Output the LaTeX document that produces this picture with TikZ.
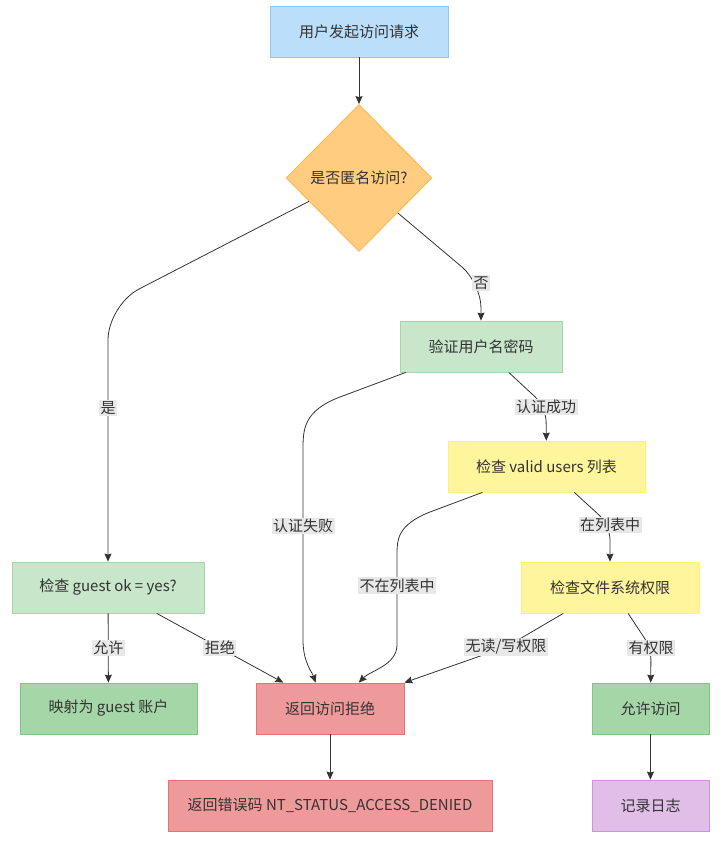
\documentclass[tikz,border=0pt]{standalone}
\usepackage{fontspec}
\setmainfont{Noto Sans CJK SC}
\usepackage{tikz}
\usetikzlibrary{arrows.meta,calc,positioning,shapes}
\definecolor{my_text}{RGB}{51, 51, 51}
\definecolor{my_line}{RGB}{51, 51, 51}
\definecolor{my_label}{RGB}{232, 232, 232}
\definecolor{my_blue}{HTML}{BBDEFB}
\definecolor{my_blue_d}{HTML}{90CAF9}
\definecolor{my_orange}{HTML}{FFCC80}
\definecolor{my_orange_d}{HTML}{FFB74D}
\definecolor{my_lgreen}{HTML}{C8E6C9}
\definecolor{my_lgreen_d}{HTML}{A5D6A7}
\definecolor{my_yellow}{HTML}{FFF59D}
\definecolor{my_yellow_d}{HTML}{FFF176}
\definecolor{my_green}{HTML}{A5D6A7}
\definecolor{my_green_d}{HTML}{81C784}
\definecolor{my_red}{HTML}{EF9A9A}
\definecolor{my_red_d}{HTML}{E57373}
\definecolor{my_purple}{HTML}{E1BEE7}
\definecolor{my_purple_d}{HTML}{CE93D8}
\tikzset{
  flownode/.style = {align=center, rectangle, draw, line width=0.8pt, minimum height=51pt,
  inner sep=2pt, text=my_text, font=\fontsize{15pt}{18pt}\selectfont},
  fn_blue/.style = {flownode, fill=my_blue, draw=my_blue_d},
  fn_lgreen/.style = {flownode, fill=my_lgreen, draw=my_lgreen_d},
  fn_yellow/.style = {flownode, fill=my_yellow, draw=my_yellow_d},
  fn_green/.style = {flownode, fill=my_green, draw=my_green_d},
  fn_red/.style = {flownode, fill=my_red, draw=my_red_d},
  fn_purple/.style = {flownode, fill=my_purple, draw=my_purple_d},
  fn_choice/.style = {flownode, diamond, fill=my_orange, draw=my_orange_d,
  minimum width=146pt, minimum height=147pt, inner sep=0pt},
  edgelabel/.style = {sharp corners, fill=my_label, inner sep=1.5pt, text=my_text,
  font=\fontsize{15pt}{18pt}\selectfont}
}

\begin{document}
\begin{tikzpicture}[x=1pt, y=-1pt, ->, >={Stealth[length=8pt,width=7pt,inset=1pt]},
        line width=0.8pt, draw=my_line]
    \useasboundingbox (0,0) rectangle (725,841);
    % nodes
    \node [fn_blue, minimum width=178pt] (req) at (359,31.5) {用户发起访问请求};
    \node [fn_choice] (anon) at (359,178) {是否匿名访问?};
    \node [fn_lgreen, minimum width=162pt] (auth) at (481,346.5) {验证用户名密码};
    \node [fn_lgreen, minimum width=192pt] (guest) at (108,587.5) {检查 guest ok = yes?};
    \node [fn_yellow, minimum width=197pt] (valid) at (546.5,466.5) {检查 valid users 列表};
    \node [fn_yellow, minimum width=178pt] (fsperm) at (610,587.5) {检查文件系统权限};
    \node [fn_green, minimum width=177pt] (mapguest) at (108.5,708.5) {映射为 guest 账户};
    \node [fn_red, minimum width=148pt] (deny) at (330,708.5) {返回访问拒绝};
    \node [fn_green, minimum width=117pt] (allow) at (650.5,708.5) {允许访问};
    \node [fn_red, minimum width=324pt] (errcode) at (330,805.5) {返回错误码 NT\_STATUS\_ACCESS\_DENIED};
    \node [fn_purple, minimum width=117pt] (log) at (650.5,805.5) {记录日志};
    % edges
    \draw (req) -- (anon);
    \draw [rounded corners=35pt] (anon.205) -- (108,305) -- node[edgelabel, pos=0.4] {是} (guest);
    \draw [rounded corners=25pt] (anon.-42) -- (481,283) node[edgelabel] {否} -- (auth);
    \draw (auth.199) -- (340,397) .. controls (303,411) and (303,430) .. (303,450)
        -- node[edgelabel, pos=0.4] {认证失败} (303,640)
        .. controls (303,662) and (312,672) .. (deny.119);
    \draw [rounded corners=15pt] (auth.-43) -- (546,407) node[edgelabel] {认证成功} -- (valid);
    \draw (valid.202) -- (430,512) .. controls (397,525) and (397,540) .. (397,555)
        -- node[edgelabel, pos=0.34] {不在列表中} (397,645)
        .. controls (397,665) and (370,671) .. (deny.42);
    \draw [rounded corners=15pt] (valid.-43) -- (610,525) node[edgelabel] {在列表中} -- (fsperm);
    \draw (guest) -- node[edgelabel] {允许} (mapguest);
    \draw (guest.-28) -- node[edgelabel] {拒绝} (deny.151.5);
    \draw [rounded corners=20pt] (fsperm.209.5) -- (506,647) node[edgelabel] {无读/写权限} -- (deny.north east);
    \draw [rounded corners=12pt] (fsperm.-55) -- (651,648) node[edgelabel] {有权限} -- (allow);
    \draw (deny) -- (errcode);
    \draw (allow) -- (log);
\end{tikzpicture}
\end{document}
